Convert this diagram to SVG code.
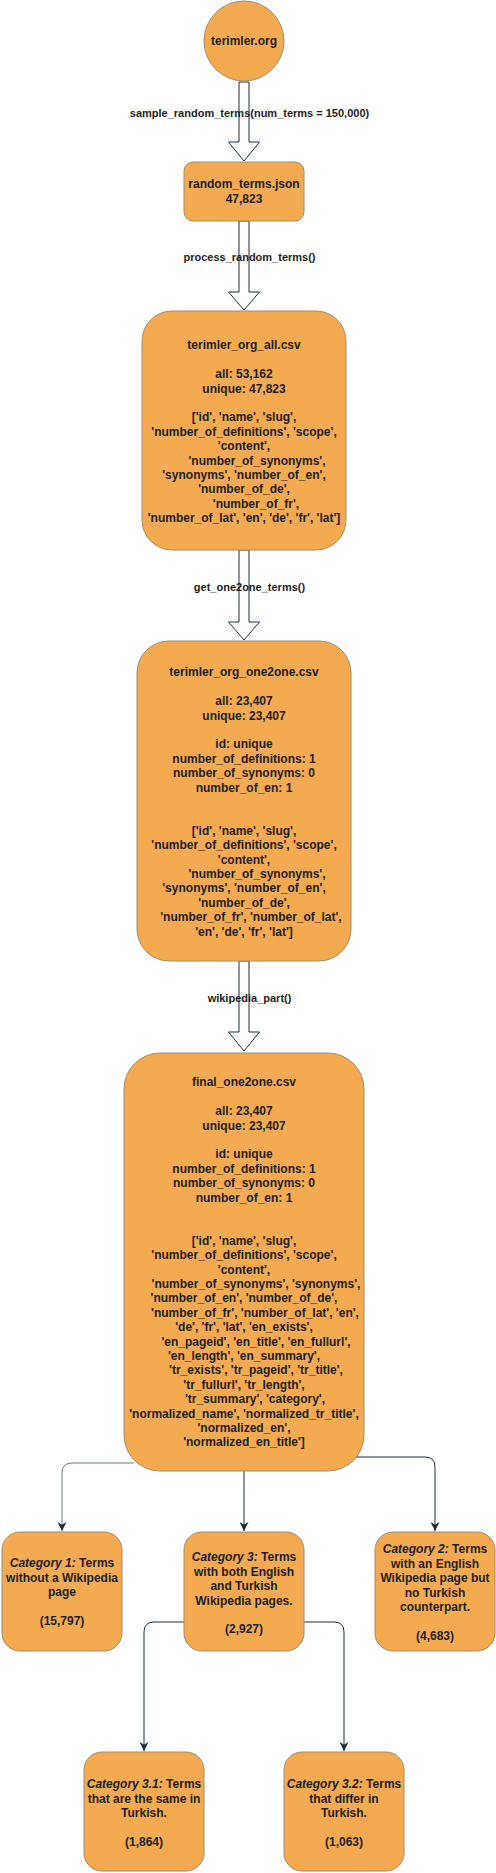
<svg xmlns="http://www.w3.org/2000/svg" width="496" height="1873" viewBox="0 0 496 1873">
<style>
.n{fill:#F4AA50;stroke:#A08C70;stroke-width:1}
.t{font-family:"Liberation Sans",Arial,sans-serif;font-weight:bold;font-size:12px;fill:#1e1e1e;text-anchor:middle}
.l{font-size:11px}
.i{font-style:italic}
.ba{fill:#ffffff;stroke:#1b2b3b;stroke-width:1}
.c{fill:none;stroke:#1b2b3b;stroke-width:1}
.g{stroke:#66778a}
</style>
<defs>
<marker id="ah" viewBox="0 0 10 10" refX="10" refY="5" markerWidth="9" markerHeight="9" markerUnits="userSpaceOnUse" orient="auto">
<path d="M0,0 L10,5 L0,10 L3,5 Z" fill="#1b2b3b"/>
</marker>
</defs>
<rect width="496" height="1873" fill="#ffffff"/>
<g id="connectors">
<polygon class="ba" points="239,82 249,82 249,142 259.5,142 244,161 228.5,142 239,142"/>
<polygon class="ba" points="239,221 249,221 249,292 259.5,292 244,310 228.5,292 239,292"/>
<polygon class="ba" points="239,550 249,550 249,622 259.5,622 244,640 228.5,622 239,622"/>
<polygon class="ba" points="239,961 249,961 249,1032 259.5,1032 244,1051 228.5,1032 239,1032"/>
<text class="t l" x="249.5" y="117">sample_random_terms(num_terms = 150,000)</text>
<text class="t l" x="249.5" y="261">process_random_terms()</text>
<text class="t l" x="249.5" y="591">get_one2one_terms()</text>
<text class="t l" x="249.5" y="1002">wikipedia_part()</text>
<path class="c g" d="M134,1463 H72 Q62,1463 62,1473 V1531" marker-end="url(#ah)"/>
<path class="c" d="M244,1471 V1531" marker-end="url(#ah)"/>
<path class="c" d="M356,1457 H425 Q435,1457 435,1467 V1531" marker-end="url(#ah)"/>
<path class="c" d="M184,1622 H154 Q144,1622 144,1632 V1751" marker-end="url(#ah)"/>
<path class="c" d="M304,1622 H334 Q344,1622 344,1632 V1751" marker-end="url(#ah)"/>
</g>
<g id="terimler_org">
<circle class="n" cx="244" cy="41" r="40"/>
<text class="t" x="244" y="45">terimler.org</text>
</g>
<g id="random_terms_json">
<rect class="n" x="184" y="162" width="120" height="59" rx="9"/>
<text class="t" x="244" y="188">random_terms.json</text>
<text class="t" x="244" y="203">47,823</text>
</g>
<g id="terimler_org_all">
<rect class="n" x="142" y="311" width="204" height="239" rx="30"/>
<text class="t" x="244" y="349">terimler_org_all.csv</text>
<text class="t" x="244" y="378">all: 53,162</text>
<text class="t" x="244" y="392.5">unique: 47,823</text>
<text class="t" x="244" y="421.3">['id', 'name', 'slug',</text>
<text class="t" x="244" y="435.7">'number_of_definitions', 'scope',</text>
<text class="t" x="244" y="450.1">'content',</text>
<text class="t" x="257" y="464.5">'number_of_synonyms',</text>
<text class="t" x="244" y="478.9">'synonyms', 'number_of_en',</text>
<text class="t" x="244" y="493.3">'number_of_de',</text>
<text class="t" x="256" y="507.7">'number_of_fr',</text>
<text class="t" x="244" y="522.1">'number_of_lat', 'en', 'de', 'fr', 'lat']</text>
</g>
<g id="terimler_org_one2one">
<rect class="n" x="137" y="641" width="214" height="320" rx="32"/>
<text class="t" x="244" y="676.3">terimler_org_one2one.csv</text>
<text class="t" x="244" y="705.1">all: 23,407</text>
<text class="t" x="244" y="719.5">unique: 23,407</text>
<text class="t" x="244" y="748.3">id: unique</text>
<text class="t" x="244" y="762.7">number_of_definitions: 1</text>
<text class="t" x="244" y="777.1">number_of_synonyms: 0</text>
<text class="t" x="244" y="791.5">number_of_en: 1</text>
<text class="t" x="244" y="834.7">['id', 'name', 'slug',</text>
<text class="t" x="244" y="849.1">'number_of_definitions', 'scope',</text>
<text class="t" x="244" y="863.5">'content',</text>
<text class="t" x="257" y="877.9">'number_of_synonyms',</text>
<text class="t" x="244" y="892.3">'synonyms', 'number_of_en',</text>
<text class="t" x="244" y="906.7">'number_of_de',</text>
<text class="t" x="251" y="921.1">'number_of_fr', 'number_of_lat',</text>
<text class="t" x="244" y="935.5">'en', 'de', 'fr', 'lat']</text>
</g>
<g id="final_one2one">
<rect class="n" x="124" y="1053" width="240" height="418" rx="36"/>
<text class="t" x="244" y="1086.3">final_one2one.csv</text>
<text class="t" x="244" y="1115.1">all: 23,407</text>
<text class="t" x="244" y="1129.5">unique: 23,407</text>
<text class="t" x="244" y="1158.3">id: unique</text>
<text class="t" x="244" y="1172.7">number_of_definitions: 1</text>
<text class="t" x="244" y="1187.1">number_of_synonyms: 0</text>
<text class="t" x="244" y="1201.5">number_of_en: 1</text>
<text class="t" x="244" y="1244.7">['id', 'name', 'slug',</text>
<text class="t" x="244" y="1259.1">'number_of_definitions', 'scope',</text>
<text class="t" x="244" y="1273.5">'content',</text>
<text class="t" x="256" y="1287.9">'number_of_synonyms', 'synonyms',</text>
<text class="t" x="244" y="1302.3">'number_of_en', 'number_of_de',</text>
<text class="t" x="255" y="1316.7">'number_of_fr', 'number_of_lat', 'en',</text>
<text class="t" x="244" y="1331.1">'de', 'fr', 'lat', 'en_exists',</text>
<text class="t" x="256" y="1345.5">'en_pageid', 'en_title', 'en_fullurl',</text>
<text class="t" x="244" y="1359.9">'en_length', 'en_summary',</text>
<text class="t" x="256" y="1374.3">'tr_exists', 'tr_pageid', 'tr_title',</text>
<text class="t" x="244" y="1388.7">'tr_fullurl', 'tr_length',</text>
<text class="t" x="255" y="1403.1">'tr_summary', 'category',</text>
<text class="t" x="244" y="1417.5">'normalized_name', 'normalized_tr_title',</text>
<text class="t" x="244" y="1431.9">'normalized_en',</text>
<text class="t" x="244" y="1446.3">'normalized_en_title']</text>
</g>
<g id="category_1">
<rect class="n" x="2" y="1532" width="120" height="119" rx="18"/>
<text class="t" x="62" y="1567.3"><tspan class="i">Category 1:</tspan> Terms</text>
<text class="t" x="62" y="1581.7">without a Wikipedia</text>
<text class="t" x="62" y="1596.1">page</text>
<text class="t" x="62" y="1624.9">(15,797)</text>
</g>
<g id="category_3">
<rect class="n" x="184" y="1532" width="120" height="119" rx="18"/>
<text class="t" x="244" y="1561.3"><tspan class="i">Category 3:</tspan> Terms</text>
<text class="t" x="244" y="1575.7">with both English</text>
<text class="t" x="244" y="1590.1">and Turkish</text>
<text class="t" x="244" y="1604.5">Wikipedia pages.</text>
<text class="t" x="244" y="1633.3">(2,927)</text>
</g>
<g id="category_2">
<rect class="n" x="375" y="1532" width="120" height="119" rx="18"/>
<text class="t" x="435" y="1553.3"><tspan class="i">Category 2:</tspan> Terms</text>
<text class="t" x="435" y="1567.7">with an English</text>
<text class="t" x="435" y="1582.1">Wikipedia page but</text>
<text class="t" x="435" y="1596.5">no Turkish</text>
<text class="t" x="435" y="1610.9">counterpart.</text>
<text class="t" x="435" y="1639.7">(4,683)</text>
</g>
<g id="category_3_1">
<rect class="n" x="84" y="1752" width="120" height="119" rx="18"/>
<text class="t" x="144" y="1788.3"><tspan class="i">Category 3.1:</tspan> Terms</text>
<text class="t" x="144" y="1802.7">that are the same in</text>
<text class="t" x="144" y="1817.1">Turkish.</text>
<text class="t" x="144" y="1845.9">(1,864)</text>
</g>
<g id="category_3_2">
<rect class="n" x="284" y="1752" width="120" height="119" rx="18"/>
<text class="t" x="344" y="1788.3"><tspan class="i">Category 3.2:</tspan> Terms</text>
<text class="t" x="344" y="1802.7">that differ in</text>
<text class="t" x="344" y="1817.1">Turkish.</text>
<text class="t" x="344" y="1845.9">(1,063)</text>
</g>
</svg>
